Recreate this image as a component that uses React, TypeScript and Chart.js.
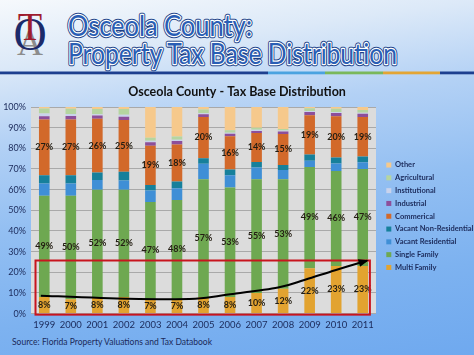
import React, { useEffect, useRef } from "react";
import { Chart, registerables } from "chart.js";

Chart.register(...registerables);

// ---------- data ----------
const years = ["1999", "2000", "2001", "2002", "2003", "2004", "2005", "2006", "2007", "2008", "2009", "2010", "2011"];
const multiFamily = [8, 7, 8, 8, 7, 7, 8, 8, 10, 12, 22, 23, 23];
const singleFamily = [49, 50, 52, 52, 47, 48, 57, 53, 55, 53, 49, 46, 47];
const vacantResidential = [6, 6, 4.7, 4.4, 5.6, 5.7, 7.5, 6, 5.7, 4.5, 3, 3.6, 3.2];
const vacantNonResidential = [4, 4, 3.6, 4.3, 2.7, 3.2, 2.7, 2.8, 2.7, 2.4, 3, 2.9, 2.9];
const commercial = [27, 27, 26, 25, 19, 18, 20, 16, 14, 15, 19, 20, 19];
const industrial = [1.5, 1.6, 1.6, 1.6, 1.6, 1.6, 1.3, 1.3, 1, 1.2, 1.6, 1.6, 1.6];
const institutional = [1.3, 1, 0.6, 1, 0.8, 0.7, 0.5, 0.4, 0.6, 0.5, 0.5, 0.5, 0.5];
const agricultural = [2.5, 2.6, 2.5, 2.7, 1.4, 1.5, 1.8, 1.3, 1, 0.8, 1.3, 1.5, 1.3];
const other = [0.7, 0.8, 1, 1, 14.9, 14.3, 1.2, 11.2, 10, 10.6, 0.6, 0.9, 1.5];

const seriesNames = [
  "Multi Family",
  "Single Family",
  "Vacant Residential",
  "Vacant Non-Residential",
  "Commerical",
  "Industrial",
  "Institutional",
  "Agricultural",
  "Other",
];
const labelledSeries = ["Multi Family", "Single Family", "Commerical"];

// annotation (category index, percent)
const highlightBox = { xFrom: -0.33, xTo: 12.27, yFrom: -0.5, yTo: 25.7 };
const trendX = [-0.13, 3.16, 5.69, 6.93, 8.81, 9.83, 10.96, 12.15];
const trendY = [8.7, 7.2, 7.2, 9.2, 12.6, 16.4, 21, 25.6];

const chartTitle = "Osceola County - Tax Base Distribution";
const slideTitle1 = "Osceola County:";
const slideTitle2 = "Property Tax Base Distribution";
const sourceText = "Source: Florida Property Valuations and Tax Databook";

const colors = ["#e2a330", "#6ea851", "#3f8fd6", "#16809b", "#d2692a", "#8d4f9a", "#c9d3ec", "#b5d5a0", "#f6c98c"];

const FONT = "Lato, 'Open Sans', sans-serif";

const plotBg = {
  id: "plotBg",
  beforeDraw(chart: any) {
    const { ctx, chartArea: a } = chart;
    ctx.save();
    ctx.fillStyle = "#dcdcdc";
    ctx.fillRect(a.left, a.top, a.right - a.left, a.bottom - a.top);
    ctx.restore();
  },
};

const legendShift = {
  id: "legendShift",
  afterLayout(chart: any) {
    const lg = chart.legend;
    if (lg) {
      lg.left += 5;
      lg.right += 5;
    }
  },
};

const valueLabels = {
  id: "valueLabels",
  afterDatasetsDraw(chart: any) {
    const { ctx } = chart;
    ctx.save();
    ctx.font = `bold 9px ${FONT}`;
    ctx.fillStyle = "#231d12";
    ctx.textAlign = "center";
    ctx.textBaseline = "middle";
    chart.data.datasets.forEach((ds: any, i: number) => {
      if (!labelledSeries.includes(ds.label)) return;
      const meta = chart.getDatasetMeta(i);
      meta.data.forEach((el: any, j: number) => {
        const p = el.getProps(["x", "y", "base"], true);
        ctx.fillText(Math.round(ds.data[j]) + "%", p.x, (p.y + p.base) / 2);
      });
    });
    ctx.restore();
  },
};

const annotations = {
  id: "annotations",
  afterDraw(chart: any) {
    const { ctx, scales } = chart;
    const xs = scales.x;
    const ys = scales.y;
    ctx.save();
    // red box
    const l = xs.getPixelForValue(highlightBox.xFrom);
    const r = xs.getPixelForValue(highlightBox.xTo);
    const t = ys.getPixelForValue(highlightBox.yTo);
    const b = ys.getPixelForValue(highlightBox.yFrom);
    ctx.strokeStyle = "#c8141e";
    ctx.lineWidth = 2;
    ctx.strokeRect(l, t, r - l, b - t);
    // trend curve (Catmull-Rom)
    const pts = trendX.map((v, i) => ({ x: xs.getPixelForValue(v), y: ys.getPixelForValue(trendY[i]) }));
    ctx.strokeStyle = "#000";
    ctx.lineWidth = 2;
    ctx.beginPath();
    ctx.moveTo(pts[0].x, pts[0].y);
    for (let i = 0; i < pts.length - 1; i++) {
      const p0 = pts[Math.max(0, i - 1)];
      const p1 = pts[i];
      const p2 = pts[i + 1];
      const p3 = pts[Math.min(pts.length - 1, i + 2)];
      const c1x = p1.x + (p2.x - p0.x) / 6;
      const c1y = p1.y + (p2.y - p0.y) / 6;
      const c2x = p2.x - (p3.x - p1.x) / 6;
      const c2y = p2.y - (p3.y - p1.y) / 6;
      ctx.bezierCurveTo(c1x, c1y, c2x, c2y, p2.x, p2.y);
    }
    ctx.stroke();
    // arrow head
    const e = pts[pts.length - 1];
    const s = pts[pts.length - 2];
    const ang = Math.atan2(e.y - s.y, e.x - s.x);
    const len = 9;
    ctx.fillStyle = "#000";
    ctx.beginPath();
    ctx.moveTo(e.x + Math.cos(ang) * 2, e.y + Math.sin(ang) * 2);
    ctx.lineTo(e.x - Math.cos(ang - 0.45) * len, e.y - Math.sin(ang - 0.45) * len);
    ctx.lineTo(e.x - Math.cos(ang + 0.45) * len, e.y - Math.sin(ang + 0.45) * len);
    ctx.closePath();
    ctx.fill();
    ctx.restore();
  },
};

const seriesData = [
  multiFamily,
  singleFamily,
  vacantResidential,
  vacantNonResidential,
  commercial,
  industrial,
  institutional,
  agricultural,
  other,
];

export default function App() {
  const canvasRef = useRef<HTMLCanvasElement | null>(null);

  useEffect(() => {
    if (!canvasRef.current) return;
    const chart = new Chart(canvasRef.current, {
      type: "bar",
      data: {
        labels: years,
        datasets: seriesNames.map((name, i) => ({
          label: name,
          data: seriesData[i],
          backgroundColor: colors[i],
          borderWidth: 0,
          barPercentage: 0.4,
          categoryPercentage: 1,
        })),
      },
      options: {
        responsive: false,
        animation: false,
        layout: { padding: { left: 0, right: 0, top: 0, bottom: 2 } },
        plugins: {
          title: {
            display: true,
            text: chartTitle,
            color: "#111111",
            font: { family: FONT, size: 12.5, weight: "bold" },
            padding: { top: 4, bottom: 8 },
          },
          legend: {
            position: "right",
            reverse: true,
            align: "start",
            maxWidth: 98,
            title: { display: true, text: "", font: { size: 1 }, padding: { top: 74.8, bottom: 0 } },
            labels: {
              boxWidth: 5,
              boxHeight: 5,
              padding: 5.3,
              color: "#1b2a5a",
              font: { family: FONT, size: 7.5, weight: "bold" },
            },
          },
          tooltip: { enabled: false },
        },
        scales: {
          x: {
            stacked: true,
            grid: { display: false, drawTicks: false },
            border: { display: false },
            ticks: {
              color: "#1b2a5a",
              font: { family: FONT, size: 9.5 },
              padding: 6,
              maxRotation: 0,
              minRotation: 0,
              autoSkip: false,
            },
          },
          y: {
            stacked: true,
            min: 0,
            max: 100,
            grid: { color: "#a9a9a9", drawTicks: false },
            border: { display: false },
            ticks: {
              stepSize: 10,
              color: "#1b2a5a",
              font: { family: FONT, size: 9 },
              padding: 5,
              callback: (v: any) => v + "%",
            },
            afterFit(scale: any) {
              scale.width = 31;
            },
          },
        },
      },
      plugins: [plotBg, legendShift, valueLabels, annotations],
    });
    return () => chart.destroy();
  }, []);

  return (
    <div
      style={{
        position: "fixed",
        left: 0,
        top: 0,
        width: 474,
        height: 355,
        overflow: "hidden",
        background:
          "linear-gradient(172deg, #f6f9fc 0%, #dce9f8 16%, #b3d1f5 34%, #93bff2 55%, #7db2f0 78%, #6fa9ef 100%)",
      }}
    >
      <svg width={474} height={355} style={{ position: "absolute", left: 0, top: 0 }}>
        {/* logo */}
        <text x={30} y={55} textAnchor="middle" fontFamily="'Liberation Serif', serif" fontSize={36} fill="#8c8c8c">A</text>
        <text x={30} y={50} textAnchor="middle" fontFamily="'Liberation Serif', serif" fontSize={46} fill="#1c2a6a">O</text>
        <text x={30} y={40} textAnchor="middle" fontFamily="'Liberation Serif', serif" fontSize={40} fill="#9e1c2e">T</text>
        {/* title */}
        {[
          { t: slideTitle1, y: 36, w: 184 },
          { t: slideTitle2, y: 64, w: 329 },
        ].map((o, i) => (
          <g key={i} fontFamily={FONT} fontSize={29}>
            <text x={68} y={o.y} textLength={o.w} lengthAdjust="spacingAndGlyphs" fill="none" stroke="#1c3f86" strokeWidth={4.5} strokeLinejoin="round">{o.t}</text>
            <text x={68} y={o.y} textLength={o.w} lengthAdjust="spacingAndGlyphs" fill="#2a5eb4" stroke="#ffffff" strokeWidth={2.4} strokeLinejoin="round" style={{ paintOrder: "stroke" }}>{o.t}</text>
          </g>
        ))}
        {/* rule */}
        <rect x={0} y={71.5} width={268} height={2.8} fill="#1d3f8f" />
        <rect x={268} y={71.5} width={57} height={2.8} fill="#4ba3e0" />
        <rect x={325} y={71.5} width={58} height={2.8} fill="#7ab85b" />
        <rect x={383} y={71.5} width={57} height={2.8} fill="#e3a534" />
        <rect x={440} y={71.5} width={34} height={2.8} fill="#1d3f8f" />
        {/* source */}
        <text x={12} y={344.5} fontFamily={FONT} fontSize={8.8} fill="#1b2a5a" textLength={200} lengthAdjust="spacingAndGlyphs">{sourceText}</text>
      </svg>
      <canvas ref={canvasRef} width={474} height={259} style={{ position: "absolute", left: 0, top: 80 }} />
    </div>
  );
}
